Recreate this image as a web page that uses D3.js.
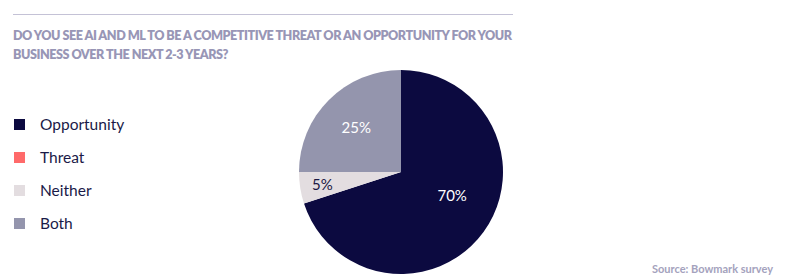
<!DOCTYPE html>
<html>
<head>
<meta charset="utf-8">
<script src="https://cdn.jsdelivr.net/npm/d3@7"></script>
<style>
  html, body { margin: 0; padding: 0; background: #ffffff; }
  svg { display: block; }
</style>
</head>
<body>
<svg id="chart" width="793" height="279"></svg>
<script>
const categories = ["Opportunity", "Threat", "Neither", "Both"];
const values = [70, 0, 5, 25];
const colors = ["#0c0a40", "#ff6a6a", "#e3dde0", "#9495ad"];
const labelColors = ["#ffffff", "#ffffff", "#1a1845", "#ffffff"];
const titleLines = [
  "DO YOU SEE AI AND ML TO BE A COMPETITIVE THREAT OR AN OPPORTUNITY FOR YOUR",
  "BUSINESS OVER THE NEXT 2-3 YEARS?"
];
const sourceText = "Source: Bowmark survey";

const svg = d3.select("#chart");
const font = "Lato, 'Open Sans', sans-serif";

// top rule
svg.append("line")
  .attr("x1", 13).attr("x2", 513)
  .attr("y1", 14.5).attr("y2", 14.5)
  .attr("stroke", "#c4c2d6").attr("stroke-width", 1);

// title
const title = svg.append("g");
titleLines.forEach((t, i) => {
  title.append("text")
    .attr("x", 13).attr("y", 39.5 + i * 19)
    .attr("font-family", font)
    .attr("font-weight", 800)
    .attr("font-size", 12.6)
    .attr("fill", "#9896b6")
    .text(t);
});
// fit first line to reference width via letter spacing
const first = title.select("text").node();
const w = first.getComputedTextLength();
const ls = (499 - w) / (titleLines[0].length - 1);
title.selectAll("text").attr("letter-spacing", ls);

// legend
const legend = svg.append("g");
const ly = d3.scaleBand().domain(categories).range([108, 240]);
categories.forEach((c, i) => {
  const cy = ly(c) + ly.bandwidth() / 2;
  legend.append("rect")
    .attr("x", 14).attr("y", cy - 5.5)
    .attr("width", 11).attr("height", 11)
    .attr("fill", colors[i]);
  legend.append("text")
    .attr("x", 40).attr("y", cy)
    .attr("dy", "0.35em")
    .attr("font-family", font)
    .attr("font-size", 15.5)
    .attr("fill", "#1a1a48")
    .text(c);
});

// pie
const cx = 401, cy = 172, R = 102;
const pie = d3.pie().sort(null).value(d => d)(values);
const arc = d3.arc().innerRadius(0).outerRadius(R);
const g = svg.append("g").attr("transform", `translate(${cx},${cy})`);
g.selectAll("path")
  .data(pie)
  .join("path")
  .attr("d", arc)
  .attr("fill", (d, i) => colors[i]);

const labelArc = d3.arc().innerRadius(R * 0.62).outerRadius(R * 0.62);
const labelArcSmall = d3.arc().innerRadius(R * 0.78).outerRadius(R * 0.78);
g.selectAll("text.lbl")
  .data(pie.filter(d => d.value > 0))
  .join("text")
  .attr("class", "lbl")
  .attr("transform", d => {
    const p = d.value < 10 ? labelArcSmall.centroid(d)
      : d.value > 50 ? [labelArc.centroid(d)[0], labelArc.centroid(d)[1] * 0.65]
      : labelArc.centroid(d);
    return `translate(${p[0]},${p[1]})`;
  })
  .attr("text-anchor", "middle")
  .attr("dy", "0.35em")
  .attr("font-family", font)
  .attr("font-size", 15)
  .attr("fill", d => labelColors[d.index])
  .text(d => d.value + "%");

// source
svg.append("text")
  .attr("x", 773).attr("y", 273)
  .attr("text-anchor", "end")
  .attr("font-family", font)
  .attr("font-weight", 700)
  .attr("font-size", 11)
  .attr("fill", "#a4a2bd")
  .text(sourceText);
</script>
</body>
</html>
